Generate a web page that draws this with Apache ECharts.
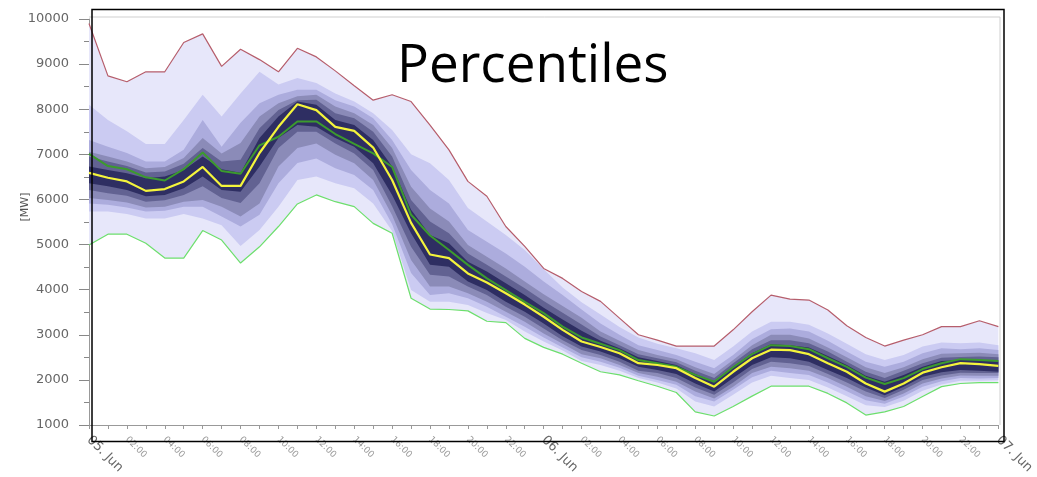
<!DOCTYPE html>
<html><head><meta charset="utf-8">
<script src="https://cdn.jsdelivr.net/npm/echarts@6/dist/echarts.min.js"></script>
<style>html,body{margin:0;padding:0;background:#fff}#c{width:1037px;height:477px}</style>
</head><body><div id="c"></div>
<script>
const categories = ['05. Jun','01:00','02:00','03:00','04:00','05:00','06:00','07:00','08:00','09:00','10:00','11:00','12:00','13:00','14:00','15:00','16:00','17:00','18:00','19:00','20:00','21:00','22:00','23:00',
  '06. Jun','01:00','02:00','03:00','04:00','05:00','06:00','07:00','08:00','09:00','10:00','11:00','12:00','13:00','14:00','15:00','16:00','17:00','18:00','19:00','20:00','21:00','22:00','23:00','07. Jun'];

const maxV = [9900,8740,8610,8830,8830,9480,9670,8950,9330,9100,8830,9350,9160,8850,8520,8200,8320,8170,7650,7100,6400,6070,5400,4960,4470,4250,3960,3740,3370,3000,2880,2750,2750,2750,3110,3510,3880,3790,3770,3550,3200,2940,2750,2880,3000,3180,3180,3310,3180];
const minV = [4990,5230,5230,5030,4700,4700,5310,5100,4590,4950,5400,5900,6100,5950,5840,5470,5250,3810,3570,3560,3530,3300,3270,2920,2720,2570,2370,2180,2110,1980,1860,1720,1290,1200,1410,1640,1860,1860,1860,1700,1490,1220,1290,1410,1630,1850,1920,1940,1940];
const median = [6590,6480,6400,6190,6230,6400,6720,6300,6300,7030,7610,8110,7980,7610,7520,7150,6430,5480,4780,4700,4360,4160,3920,3670,3400,3110,2850,2730,2590,2370,2330,2260,2040,1850,2180,2480,2670,2660,2570,2370,2180,1920,1740,1920,2160,2280,2370,2350,2310];
const actual = [7010,6740,6670,6490,6420,6670,7040,6630,6570,7200,7390,7730,7730,7450,7230,7020,6720,5660,5200,4880,4550,4250,3990,3730,3480,3180,2940,2800,2660,2440,2370,2290,2110,1960,2280,2570,2770,2750,2680,2480,2290,2050,1910,2040,2240,2370,2460,2440,2420];

const p95 = [8100,7760,7510,7230,7230,7760,8320,7840,8350,8830,8550,8690,8580,8350,8170,7910,7540,7000,6800,6430,5810,5510,5210,4880,4450,4050,3720,3450,3170,2940,2800,2700,2590,2440,2740,3070,3290,3290,3220,3030,2800,2570,2440,2550,2740,2830,2810,2830,2770];
const p90 = [7320,7170,7030,6840,6840,7100,7760,7170,7700,8130,8320,8430,8430,8200,8060,7800,7320,6650,6210,5910,5320,5060,4800,4510,4180,3880,3560,3250,3000,2770,2660,2550,2400,2260,2550,2900,3120,3140,3070,2870,2630,2400,2290,2400,2590,2700,2680,2700,2660];
const p75 = [7060,6950,6840,6690,6720,6920,7360,7020,7250,7840,8130,8290,8320,8060,7910,7650,7140,6280,5800,5510,4990,4730,4470,4180,3900,3640,3380,3070,2870,2660,2550,2460,2280,2130,2440,2770,3000,3000,2920,2720,2500,2280,2150,2280,2460,2580,2590,2600,2570];
const p65 = [6950,6840,6740,6600,6620,6790,7140,6840,6880,7580,7980,8200,8210,7910,7800,7500,6950,5990,5510,5250,4800,4550,4290,4030,3750,3490,3230,2960,2770,2570,2480,2390,2200,2040,2370,2680,2880,2880,2810,2630,2400,2180,2040,2200,2370,2490,2510,2520,2500];
const p55 = [6730,6650,6580,6470,6510,6650,6950,6670,6590,7360,7840,8170,8100,7760,7650,7320,6730,5770,5210,5030,4620,4400,4140,3880,3600,3340,3090,2870,2700,2500,2420,2330,2130,1960,2290,2590,2790,2770,2720,2530,2330,2090,1960,2110,2290,2420,2440,2450,2400];
const p45 = [6360,6290,6210,6070,6100,6250,6510,6210,6170,6730,7360,7650,7610,7360,7170,6800,6100,5250,4550,4510,4180,3990,3730,3510,3250,2970,2740,2630,2480,2290,2220,2130,1920,1740,2040,2330,2500,2480,2400,2220,2040,1830,1660,1850,2070,2170,2220,2200,2180];
const p35 = [6210,6140,6080,5950,5980,6100,6290,6030,5920,6360,7140,7500,7500,7240,7020,6650,5850,4950,4330,4290,4070,3880,3620,3400,3140,2880,2660,2550,2400,2200,2150,2040,1830,1670,1940,2240,2400,2370,2310,2130,1940,1740,1600,1780,2000,2100,2160,2150,2150];
const p25 = [6030,5990,5930,5820,5840,5950,5990,5840,5620,5910,6730,7140,7240,6990,6800,6430,5650,4660,4070,4070,3920,3730,3510,3290,3030,2800,2570,2480,2330,2150,2070,1960,1740,1590,1850,2150,2290,2260,2200,2040,1850,1640,1530,1700,1920,2030,2100,2090,2090];
const p10 = [5910,5880,5820,5730,5750,5840,5840,5620,5400,5660,6360,6810,6910,6690,6540,6210,5450,4370,3880,3920,3810,3620,3400,3180,2940,2720,2500,2400,2270,2090,2000,1890,1640,1520,1780,2060,2200,2150,2110,1940,1750,1550,1470,1630,1850,1970,2040,2030,2040];
const p5 = [5730,5730,5680,5580,5580,5680,5580,5430,4970,5320,5840,6430,6510,6360,6250,5910,5300,3990,3730,3730,3660,3480,3330,3070,2850,2650,2420,2330,2200,2040,1940,1810,1520,1410,1670,1940,2090,2040,2000,1830,1640,1440,1400,1540,1760,1900,1980,1980,1990];

const bands = [
  {name:'min-max', lo:minV, hi:maxV, color:'#e7e7fa'},
  {name:'5-95', lo:p5, hi:p95, color:'#cbcbf2'},
  {name:'10-90', lo:p10, hi:p90, color:'#acacdd'},
  {name:'25-75', lo:p25, hi:p75, color:'#8b8bb8'},
  {name:'35-65', lo:p35, hi:p65, color:'#626292'},
  {name:'45-55', lo:p45, hi:p55, color:'#2e2e62'}
];

const series = [];
bands.forEach(b => {
  series.push({name:b.name+' base', type:'line', stack:b.name, data:b.lo, symbol:'none', silent:true,
    lineStyle:{width:0, opacity:0}});
  series.push({name:b.name, type:'line', stack:b.name, data:b.hi.map((v,i)=>v-b.lo[i]), symbol:'none', silent:true,
    lineStyle:{width:0, opacity:0}, areaStyle:{color:b.color, opacity:1}});
});
series.push({name:'Max', type:'line', data:maxV, symbol:'none', lineStyle:{color:'#b65e6c', width:1.2}});
series.push({name:'Min', type:'line', data:minV, symbol:'none', lineStyle:{color:'#6ddf6d', width:1.2}});
series.push({name:'Actual', type:'line', data:actual, symbol:'none', lineStyle:{color:'#3c9a2e', width:2}});
series.push({name:'Median', type:'line', data:median, symbol:'none', lineStyle:{color:'#f4f43c', width:2.2}});

const chart = echarts.init(document.getElementById('c'));
chart.setOption({
  animation:false,
  backgroundColor:'#fff',
  title:{text:'Percentiles', left:397, top:40, padding:0,
    textStyle:{fontSize:53, fontWeight:'normal', color:'#000', fontFamily:'Open Sans'}},
  grid:{left:89, right:37, top:19, bottom:52, containLabel:false},
  xAxis:{type:'category', data:categories, boundaryGap:false,
    axisLine:{lineStyle:{color:'#999'}},
    axisTick:{interval:0, length:4, lineStyle:{color:'#999'}},
    axisLabel:{interval:1, rotate:-45, margin:13,
      formatter:v => v.indexOf('Jun')>=0 ? '{d|'+v+'}' : '{h|'+v+'}',
      rich:{d:{fontSize:13, color:'#666', fontFamily:'DejaVu Sans'}, h:{fontSize:9, color:'#999', fontFamily:'DejaVu Sans'}}},
    splitLine:{show:false}},
  yAxis:{type:'value', min:1000, max:10000, interval:1000,
    name:'[MW]', nameLocation:'middle', nameGap:58, nameMoveOverlap:false,
    nameTextStyle:{fontSize:11, color:'#555', fontFamily:'DejaVu Sans', padding:[0,0,0,30]},
    axisLine:{show:true, lineStyle:{color:'#999'}},
    axisTick:{show:true, length:10, lineStyle:{color:'#888'}},
    minorTick:{show:true, splitNumber:2, length:5, lineStyle:{color:'#888'}},
    axisLabel:{margin:20, fontSize:13, color:'#666', fontFamily:'DejaVu Sans', formatter:v => String(v)},
    splitLine:{show:false}},
  graphic:[
    {type:'line', shape:{x1:89, y1:17, x2:1000, y2:17}, style:{stroke:'#cfcfcf', lineWidth:1}, z:50},
    {type:'line', shape:{x1:1000, y1:17, x2:1000, y2:425}, style:{stroke:'#cfcfcf', lineWidth:1}, z:50},
    {type:'rect', shape:{x:92, y:9.5, width:912, height:432}, style:{fill:null, stroke:'#000', lineWidth:1.5}, z:100, silent:true}
  ],
  series:series
});
</script></body></html>
